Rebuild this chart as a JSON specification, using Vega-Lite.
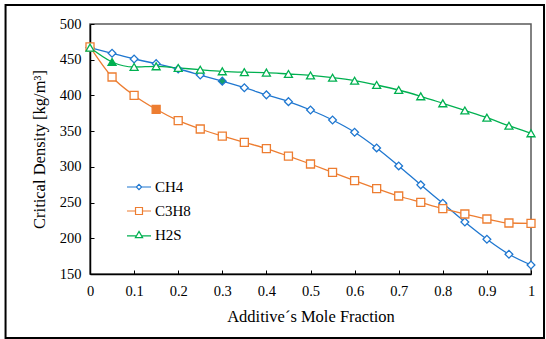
{
  "$schema": "https://vega.github.io/schema/vega-lite/v6.json",
  "width": 441,
  "height": 250,
  "autosize": {"type": "none"},
  "padding": {"left": 90, "top": 24, "right": 15, "bottom": 65},
  "background": "white",
  "config": {
    "font": "Liberation Serif",
    "view": {"stroke": "#595959", "strokeWidth": 1.5},
    "axis": {
      "labelFont": "Liberation Serif",
      "titleFont": "Liberation Serif",
      "labelColor": "black",
      "titleColor": "black",
      "labelFontSize": 14.5,
      "titleFontSize": 16.5,
      "titleFontWeight": "normal",
      "domainColor": "black",
      "domainWidth": 1.5,
      "tickColor": "black",
      "tickWidth": 1,
      "grid": false,
      "labelOverlap": false,
      "labelFlush": false
    },
    "axisY": {"labelOverlap": false},
    "legend": {"labelFont": "Liberation Serif"}
  },
  "data": {
    "values": [
      {"x": 0, "series": "CH4", "v": 467}, {"x": 0.05, "series": "CH4", "v": 459}, {"x": 0.1, "series": "CH4", "v": 451}, {"x": 0.15, "series": "CH4", "v": 444.5}, {"x": 0.2, "series": "CH4", "v": 437}, {"x": 0.25, "series": "CH4", "v": 428.6}, {"x": 0.3, "series": "CH4", "v": 420}, {"x": 0.35, "series": "CH4", "v": 410.8}, {"x": 0.4, "series": "CH4", "v": 400.8}, {"x": 0.45, "series": "CH4", "v": 391.3}, {"x": 0.5, "series": "CH4", "v": 379.6}, {"x": 0.55, "series": "CH4", "v": 365.6}, {"x": 0.6, "series": "CH4", "v": 348.5}, {"x": 0.65, "series": "CH4", "v": 326.5}, {"x": 0.7, "series": "CH4", "v": 301.3}, {"x": 0.75, "series": "CH4", "v": 274.8}, {"x": 0.8, "series": "CH4", "v": 249}, {"x": 0.85, "series": "CH4", "v": 222.8}, {"x": 0.9, "series": "CH4", "v": 198.6}, {"x": 0.95, "series": "CH4", "v": 177.6}, {"x": 1, "series": "CH4", "v": 162.6},
      {"x": 0, "series": "C3H8", "v": 468}, {"x": 0.05, "series": "C3H8", "v": 425.8}, {"x": 0.1, "series": "C3H8", "v": 400}, {"x": 0.15, "series": "C3H8", "v": 380.6}, {"x": 0.2, "series": "C3H8", "v": 364.7}, {"x": 0.25, "series": "C3H8", "v": 353}, {"x": 0.3, "series": "C3H8", "v": 343}, {"x": 0.35, "series": "C3H8", "v": 334.4}, {"x": 0.4, "series": "C3H8", "v": 325.5}, {"x": 0.45, "series": "C3H8", "v": 315}, {"x": 0.5, "series": "C3H8", "v": 304}, {"x": 0.55, "series": "C3H8", "v": 292.4}, {"x": 0.6, "series": "C3H8", "v": 280.7}, {"x": 0.65, "series": "C3H8", "v": 269.5}, {"x": 0.7, "series": "C3H8", "v": 259.2}, {"x": 0.75, "series": "C3H8", "v": 250.3}, {"x": 0.8, "series": "C3H8", "v": 241.5}, {"x": 0.85, "series": "C3H8", "v": 234}, {"x": 0.9, "series": "C3H8", "v": 227}, {"x": 0.95, "series": "C3H8", "v": 221.4}, {"x": 1, "series": "C3H8", "v": 221},
      {"x": 0, "series": "H2S", "v": 467}, {"x": 0.05, "series": "H2S", "v": 446.8}, {"x": 0.1, "series": "H2S", "v": 439.8}, {"x": 0.15, "series": "H2S", "v": 440.8}, {"x": 0.2, "series": "H2S", "v": 438.5}, {"x": 0.25, "series": "H2S", "v": 436}, {"x": 0.3, "series": "H2S", "v": 433.8}, {"x": 0.35, "series": "H2S", "v": 432.6}, {"x": 0.4, "series": "H2S", "v": 432}, {"x": 0.45, "series": "H2S", "v": 430}, {"x": 0.5, "series": "H2S", "v": 428}, {"x": 0.55, "series": "H2S", "v": 424.8}, {"x": 0.6, "series": "H2S", "v": 420.6}, {"x": 0.65, "series": "H2S", "v": 414.6}, {"x": 0.7, "series": "H2S", "v": 407.6}, {"x": 0.75, "series": "H2S", "v": 398.8}, {"x": 0.8, "series": "H2S", "v": 389}, {"x": 0.85, "series": "H2S", "v": 379}, {"x": 0.9, "series": "H2S", "v": 368.9}, {"x": 0.95, "series": "H2S", "v": 357.6}, {"x": 1, "series": "H2S", "v": 347}
    ]
  },
  "layer": [
    {
      "mark": {"type": "line", "strokeWidth": 1.3, "interpolate": "monotone"},
      "encoding": {
        "x": {
          "field": "x", "type": "quantitative",
          "scale": {"domain": [0, 1], "nice": false, "zero": false},
          "axis": {
            "values": [0, 0.1, 0.2, 0.3, 0.4, 0.5, 0.6, 0.7, 0.8, 0.9, 1],
            "format": "~g",
            "tickSize": -4,
            "labelPadding": 14,
            "labelOverlap": false,
            "title": "Additive´s Mole Fraction",
            "titlePadding": 11
          }
        },
        "y": {
          "field": "v", "type": "quantitative",
          "scale": {"domain": [150, 500], "nice": false, "zero": false},
          "axis": {
            "values": [150, 200, 250, 300, 350, 400, 450, 500],
            "tickCount": 8,
            "format": "d",
            "tickSize": -4,
            "labelPadding": 13,
            "labelOverlap": false,
            "title": "Critical Density [kg/m³]",
            "titlePadding": 12
          }
        },
        "color": {
          "field": "series", "type": "nominal",
          "scale": {"domain": ["CH4", "C3H8", "H2S"], "range": ["#1F77D0", "#ED7D31", "#00B050"]},
          "legend": {
            "title": null,
            "orient": "none",
            "legendX": 36,
            "legendY": 150,
            "symbolSize": 576,
            "symbolStrokeWidth": 1.2,
            "labelFont": "Liberation Serif",
            "labelFontSize": 15,
            "labelColor": "black",
            "labelOffset": 3,
            "rowPadding": 3,
            "encode": {
              "symbols": {
                "update": {
                  "shape": {"signal": "datum.value === 'CH4' ? 'M-1,0H-0.22M0.22,0H1M0,-0.22L0.22,0L0,0.22L-0.22,0Z' : datum.value === 'C3H8' ? 'M-1,0H-0.29M0.29,0H1M-0.29,-0.29H0.29V0.29H-0.29Z' : 'M-1,0.08H-0.25M0.25,0.08H1M0,-0.3L0.3,0.22H-0.3Z'"},
                  "fill": {"value": "white"}
                }
              }
            }
          }
        },
        "detail": {"field": "series"}
      }
    },
    {
      "transform": [{"filter": "datum.series === 'CH4'"}],
      "mark": {"type": "point", "shape": "diamond", "filled": false, "size": 60, "strokeWidth": 1.3, "opacity": 1},
      "encoding": {
        "x": {"field": "x", "type": "quantitative"},
        "y": {"field": "v", "type": "quantitative"},
        "color": {"field": "series", "type": "nominal", "legend": null},
        "fill": {"condition": {"test": "datum.x === 0.3", "value": "#12A06A"}, "value": "white"}
      }
    },
    {
      "transform": [{"filter": "datum.series === 'C3H8'"}],
      "mark": {"type": "point", "shape": "square", "filled": false, "size": 64, "strokeWidth": 1.3, "opacity": 1},
      "encoding": {
        "x": {"field": "x", "type": "quantitative"},
        "y": {"field": "v", "type": "quantitative"},
        "color": {"field": "series", "type": "nominal", "legend": null},
        "fill": {"condition": {"test": "datum.x === 0.15", "value": "#ED7D31"}, "value": "white"}
      }
    },
    {
      "transform": [{"filter": "datum.series === 'H2S'"}],
      "mark": {"type": "point", "shape": "triangle-up", "filled": false, "size": 64, "strokeWidth": 1.3, "opacity": 1},
      "encoding": {
        "x": {"field": "x", "type": "quantitative"},
        "y": {"field": "v", "type": "quantitative"},
        "color": {"field": "series", "type": "nominal", "legend": null},
        "fill": {"condition": {"test": "datum.x === 0.05", "value": "#00B050"}, "value": "white"}
      }
    },
    {
      "mark": {"type": "rect", "fill": null, "filled": false, "stroke": "black", "strokeWidth": 2, "clip": false},
      "data": {"values": [{}]},
      "encoding": {
        "x": {"datum": -0.1915, "type": "quantitative"},
        "x2": {"datum": 1.0295},
        "y": {"datum": 526.6, "type": "quantitative"},
        "y2": {"datum": 60.4}
      }
    }
  ]
}
